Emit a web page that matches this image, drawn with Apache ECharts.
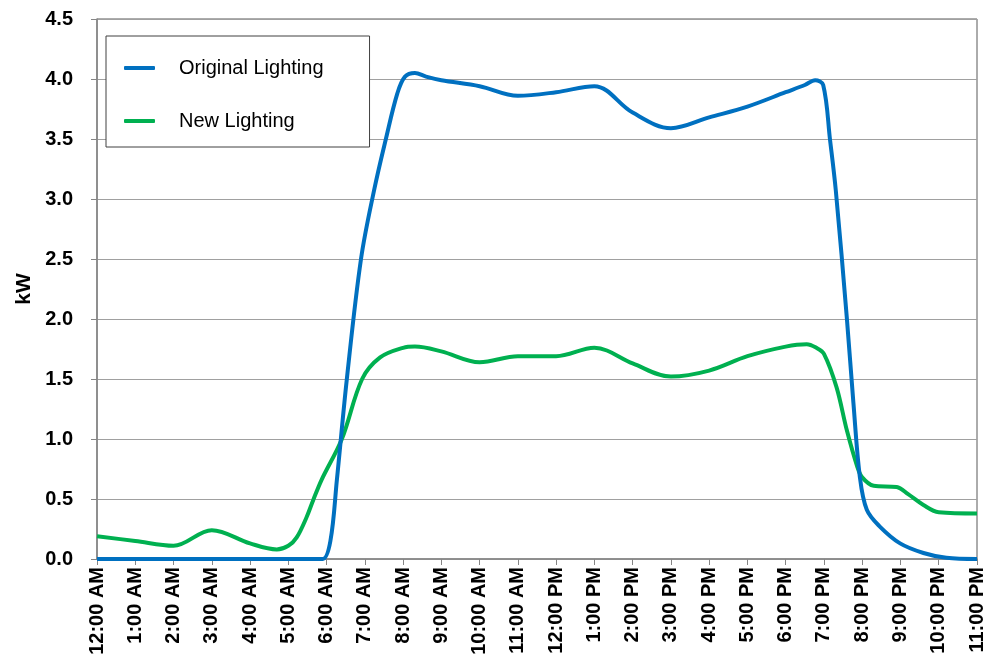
<!DOCTYPE html>
<html><head><meta charset="utf-8">
<script src="https://cdn.jsdelivr.net/npm/echarts@6/dist/echarts.min.js"></script>
<style>html,body{margin:0;padding:0;background:#fff}#c{width:987px;height:666px}</style>
</head><body><div id="c"></div>
<script>
const tickLabels = ["12:00 AM","1:00 AM","2:00 AM","3:00 AM","4:00 AM","5:00 AM","6:00 AM","7:00 AM","8:00 AM","9:00 AM","10:00 AM","11:00 AM","12:00 PM","1:00 PM","2:00 PM","3:00 PM","4:00 PM","5:00 PM","6:00 PM","7:00 PM","8:00 PM","9:00 PM","10:00 PM","11:00 PM"];
const seriesNames = ["Original Lighting","New Lighting"];
const origHours = [0,1,2,3,4,5,5.7,5.9,6.1,6.27,6.53,6.9,7.24,7.55,7.85,8.05,8.31,8.6,9,10,11,12,13,14,15,16,17,18,18.5,18.77,18.98,19.16,19.31,19.6,19.77,19.94,20.12,20.46,20.99,21.6,22.2,23];
const origKW =   [0,0,0,0,0,0,0,0.0,0.15,0.66,1.5,2.5,3.07,3.5,3.88,4.02,4.05,4.02,3.99,3.94,3.86,3.89,3.94,3.72,3.59,3.68,3.77,3.89,3.95,3.99,3.95,3.49,3.07,2.0,1.3,0.68,0.41,0.27,0.13,0.05,0.01,0.0];
const newHours = [0,1,2,3,4,4.7,5,5.22,5.48,5.65,5.87,6.4,6.93,7.4,8,8.31,9,10,11,12,13,14,15,16,17,18,18.55,18.8,19,19.33,19.6,19.87,20,20.3,20.9,21.2,21.6,22,23];
const newKW =    [0.19,0.15,0.11,0.24,0.13,0.08,0.11,0.18,0.35,0.49,0.66,1.0,1.5,1.68,1.76,1.77,1.73,1.64,1.69,1.69,1.76,1.63,1.52,1.57,1.69,1.77,1.79,1.76,1.71,1.43,1.07,0.77,0.68,0.61,0.60,0.54,0.45,0.39,0.38];

const pair = (xs, ys) => xs.map((x, i) => [x, ys[i]]);
const FONT = "Liberation Sans";
const chart = echarts.init(document.getElementById('c'), null, {renderer: 'canvas'});
chart.setOption({
  animation: false,
  backgroundColor: '#ffffff',
  grid: {left: 97, right: 10, top: 19, bottom: 107, show: true, borderColor: '#595959', borderWidth: 1, backgroundColor: 'transparent'},
  legend: {
    orient: 'vertical', left: 106, top: 36,
    padding: [22, 46, 16, 18],
    itemGap: 33, itemWidth: 31, itemHeight: 4,
    borderColor: '#404040', borderWidth: 1, backgroundColor: '#fff',
    icon: 'roundRect',
    textStyle: {fontFamily: FONT, fontSize: 20, color: '#000', padding: [0, 0, 0, 19], lineHeight: 20},
    data: seriesNames
  },
  xAxis: {
    type: 'value', min: 0, max: 23, interval: 1,
    axisLine: {show: true, lineStyle: {color: '#868686', width: 1.5}},
    axisTick: {show: true, inside: false, length: 6, lineStyle: {color: '#868686'}},
    splitLine: {show: false},
    axisLabel: {rotate: 90, margin: 8, fontFamily: FONT, fontWeight: 'bold', fontSize: 20, color: '#000',
      formatter: v => tickLabels[Math.round(v)] || ''}
  },
  yAxis: {
    type: 'value', min: 0, max: 4.5, interval: 0.5,
    name: 'kW', nameLocation: 'middle', nameGap: 62, nameRotate: 90,
    nameTextStyle: {fontFamily: FONT, fontWeight: 'bold', fontSize: 21, color: '#000'},
    axisLine: {show: true, lineStyle: {color: '#868686', width: 1.5}},
    axisTick: {show: true, inside: false, length: 6, lineStyle: {color: '#868686'}},
    splitLine: {show: true, lineStyle: {color: '#a0a0a0', width: 1}},
    axisLabel: {margin: 24, fontFamily: FONT, fontWeight: 'bold', fontSize: 20, color: '#000',
      formatter: v => v.toFixed(1)}
  },
  series: [
    {name: seriesNames[0], type: 'line', data: pair(origHours, origKW), smooth: 0.35, showSymbol: false,
     lineStyle: {color: '#0070C0', width: 4}, itemStyle: {color: '#0070C0'}, z: 3},
    {name: seriesNames[1], type: 'line', data: pair(newHours, newKW), smooth: 0.35, showSymbol: false,
     lineStyle: {color: '#00B050', width: 4}, itemStyle: {color: '#00B050'}, z: 2}
  ]
});
</script></body></html>
